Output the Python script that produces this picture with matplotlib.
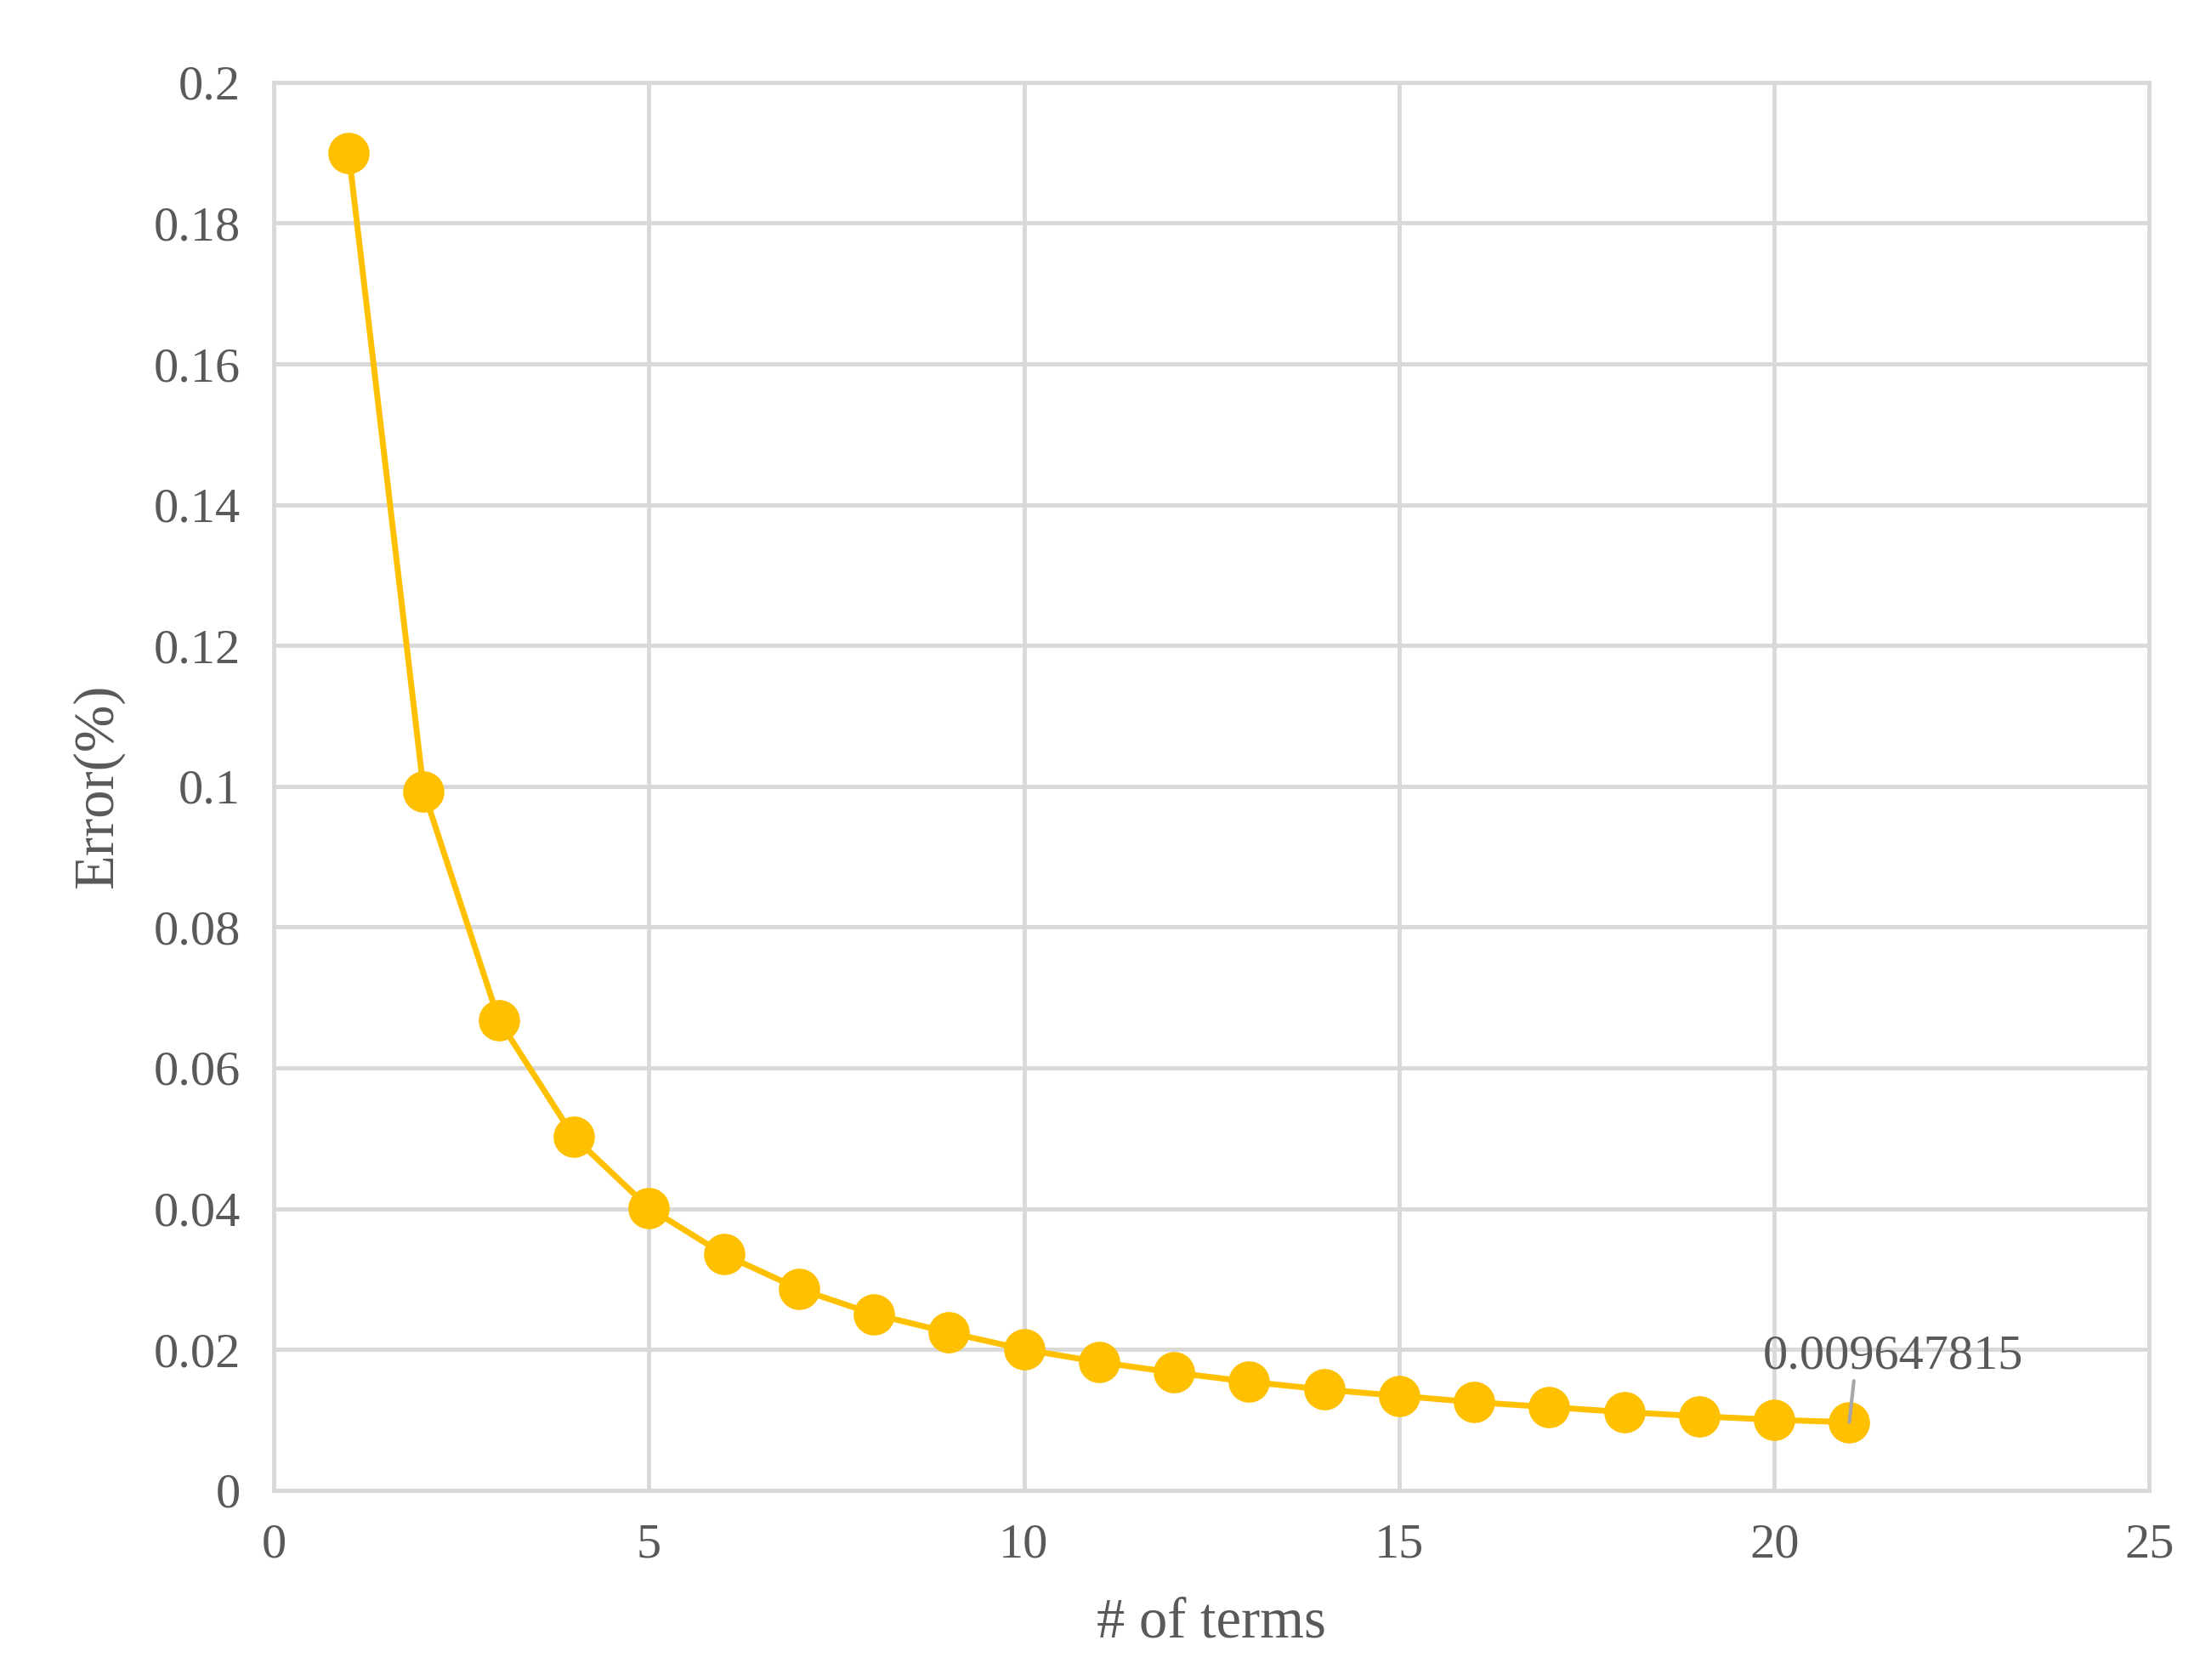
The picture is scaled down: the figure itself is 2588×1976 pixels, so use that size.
import matplotlib
matplotlib.use("Agg")
import matplotlib.pyplot as plt

terms = list(range(1, 22))
error = [0.19, 0.0993, 0.0668, 0.0502, 0.0401, 0.0335, 0.0286, 0.0250, 0.0224, 0.0200,
         0.0182, 0.0167, 0.0154, 0.0143, 0.0134, 0.0125, 0.0118, 0.0111, 0.0105, 0.0100, 0.009647815]
label_text = "0.009647815"
xticks = [0, 5, 10, 15, 20, 25]
yticks = [0, 0.02, 0.04, 0.06, 0.08, 0.1, 0.12, 0.14, 0.16, 0.18, 0.2]

plt.rcParams['font.family'] = ['Liberation Serif', 'DejaVu Serif']
fig = plt.figure(figsize=(25.88, 19.76), dpi=100)
ax = fig.add_axes([0.1244, 0.113, 0.8526, 0.838])
gray = "#595959"
ax.plot(terms, error, color="#FFC000", lw=5, marker="o", markersize=34, zorder=3, clip_on=False)
ax.set_xlim(0, 25)
ax.set_ylim(0, 0.2)
ax.set_xticks(xticks)
ax.set_yticks(yticks)
ax.set_yticklabels(["0", "0.02", "0.04", "0.06", "0.08", "0.1", "0.12", "0.14", "0.16", "0.18", "0.2"])
ax.grid(True, color="#d9d9d9", lw=3.5)
for s in ax.spines.values():
    s.set_color("#d9d9d9"); s.set_linewidth(3.5)
ax.tick_params(length=0, labelsize=42, colors=gray, pad=28)
ax.set_xlabel("# of terms", fontsize=48, color=gray, labelpad=25)
ax.set_ylabel("Error(%)", fontsize=48, color=gray, labelpad=25)
ax.annotate(label_text, xy=(terms[-1], error[-1]), xytext=(19.85, 0.019),
            fontsize=42, color=gray, ha="left", va="center",
            arrowprops=dict(arrowstyle="-", color="#a6a6a6", lw=3, shrinkA=0, shrinkB=0,
                            relpos=(0.35, 0)))
fig.savefig("out.png", dpi=100, facecolor="white")
